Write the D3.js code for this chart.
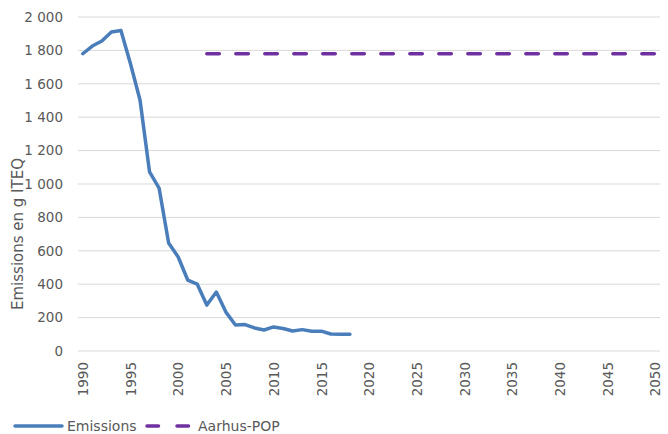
<!DOCTYPE html>
<html>
<head>
<meta charset="utf-8">
<script src="https://cdn.jsdelivr.net/npm/d3@7"></script>
<style>
  html, body { margin: 0; padding: 0; background: #fff; }
  svg { display: block; font-family: "DejaVu Sans", Verdana, sans-serif; }
</style>
</head>
<body>
<svg id="chart" width="668" height="434"></svg>
<script>
// Years on the category axis
const years = d3.range(1990, 2051);
// Emission series, 1990–2018 (g I-TEQ)
const emissionYears = d3.range(1990, 2019);
const emissions = [1780, 1826, 1856, 1910, 1919, 1720, 1503, 1072, 975, 647,
                   563, 425, 400, 275, 353, 233, 156, 158, 138, 126,
                   144, 135, 120, 128, 118, 119, 102, 101, 101];
// Aarhus-POP reference level, 2003–2050
const aarhusYears = d3.range(2003, 2051);
const aarhusLevel = 1780;
const yTicks = [0, 200, 400, 600, 800, 1000, 1200, 1400, 1600, 1800, 2000];
const xTickYears = d3.range(1990, 2051, 5);

const svg = d3.select("#chart");
const plotLeft = 78, plotRight = 660, plotTop = 17, plotBottom = 351;

const x = d3.scalePoint().domain(years).range([plotLeft, plotRight]).padding(0.5);
const y = d3.scaleLinear().domain([0, 2000]).range([plotBottom, plotTop]);

const fmt = v => d3.format(",")(v).replace(/,/g, " ");

// Horizontal gridlines
svg.append("g")
  .selectAll("line")
  .data(yTicks)
  .join("line")
  .attr("x1", plotLeft).attr("x2", plotRight)
  .attr("y1", d => y(d)).attr("y2", d => y(d))
  .attr("stroke", "#d9d9d9").attr("stroke-width", 1);

// Y axis labels
const yAxis = svg.append("g")
  .attr("transform", `translate(${plotLeft},0)`)
  .call(d3.axisLeft(y).tickValues(yTicks).tickFormat(fmt).tickSize(0).tickPadding(15));
yAxis.select(".domain").remove();
yAxis.selectAll("text").attr("fill", "#595959").style("font-size", "13.5px")
  .style("font-family", "DejaVu Sans, Verdana, sans-serif");

// X axis labels, rotated
const xAxis = svg.append("g")
  .attr("transform", `translate(0,${plotBottom})`)
  .call(d3.axisBottom(x).tickValues(xTickYears).tickSize(0));
xAxis.select(".domain").remove();
xAxis.selectAll("text")
  .attr("fill", "#595959").style("font-size", "13.5px")
  .style("font-family", "DejaVu Sans, Verdana, sans-serif")
  .attr("text-anchor", "end")
  .attr("transform", "rotate(-90)")
  .attr("x", -11).attr("y", 0).attr("dy", "0.35em");

// Axis title
svg.append("text")
  .attr("transform", "translate(23,234) rotate(-90)")
  .attr("text-anchor", "middle")
  .attr("fill", "#595959")
  .style("font-size", "15px")
  .text("Emissions en g ITEQ");

// Aarhus-POP dashed level
svg.append("path")
  .datum(aarhusYears)
  .attr("fill", "none")
  .attr("stroke", "#7030a0")
  .attr("stroke-width", 3.5)
  .attr("stroke-linecap", "round")
  .attr("stroke-dasharray", "12.5 16.5")
  .attr("d", d3.line().x(d => x(d)).y(() => y(aarhusLevel)));

// Emissions line
svg.append("path")
  .datum(emissionYears.map((yr, i) => [yr, emissions[i]]))
  .attr("fill", "none")
  .attr("stroke", "#4a7ebb")
  .attr("stroke-width", 3.5)
  .attr("stroke-linejoin", "round")
  .attr("stroke-linecap", "round")
  .attr("d", d3.line().x(d => x(d[0])).y(d => y(d[1])));

// Legend
const lg = svg.append("g").attr("transform", "translate(0,426)");
lg.append("line").attr("x1", 15).attr("x2", 62).attr("y1", 0).attr("y2", 0)
  .attr("stroke", "#4a7ebb").attr("stroke-width", 3.5).attr("stroke-linecap", "round");
lg.append("text").attr("x", 67).attr("y", 0).attr("dy", "0.35em")
  .attr("fill", "#595959").style("font-size", "14px").text("Emissions");
lg.append("line").attr("x1", 147).attr("x2", 189).attr("y1", 0).attr("y2", 0)
  .attr("stroke", "#7030a0").attr("stroke-width", 3.5).attr("stroke-linecap", "round")
  .attr("stroke-dasharray", "11.5 18.5");
lg.append("text").attr("x", 198).attr("y", 0).attr("dy", "0.35em")
  .attr("fill", "#595959").style("font-size", "14px").text("Aarhus-POP");
</script>
</body>
</html>
